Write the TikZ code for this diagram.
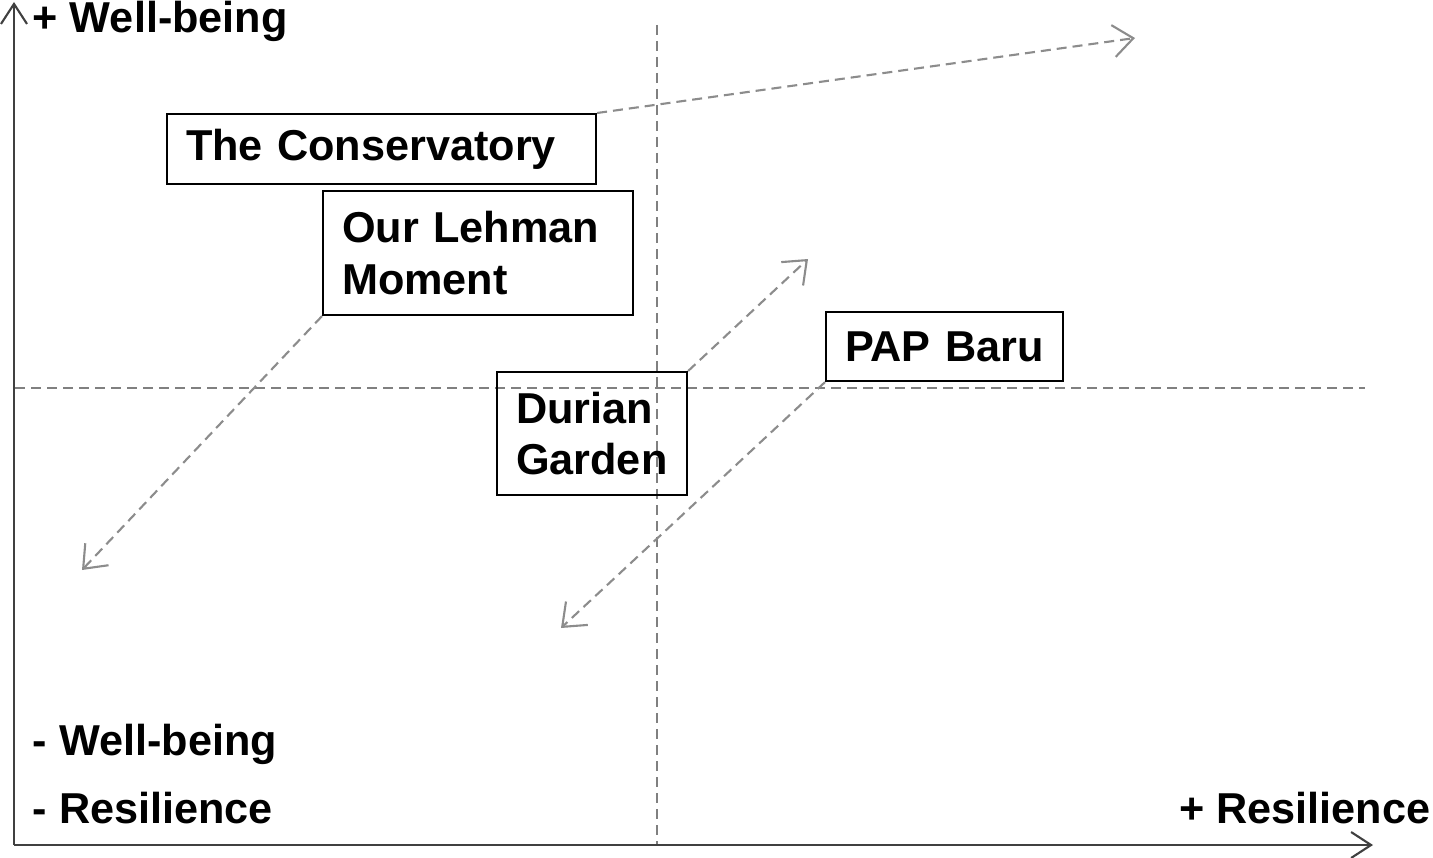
\documentclass[tikz,border=0pt]{standalone}
\usepackage{fontspec}
\setmainfont{Liberation Sans}
\usetikzlibrary{arrows.meta}
\tikzset{
	axisline/.style={draw=black!75, line width=0.6pt, -{Straight Barb[length=0.2cm, width=0.26cm]}},
	guideline/.style={draw=black!50, line width=0.5pt, dash pattern=on 0.10cm off 0.06cm},
	shiftarrow/.style={draw=black!45, line width=0.6pt, dash pattern=on 0.10cm off 0.06cm, -{Straight Barb[length=0.2cm, width=0.32cm]}},
	casebox/.style={draw=black, line width=0.6pt, anchor=north west, align=left, inner xsep=0.19cm, inner ysep=0pt, font=\fontsize{12.3}{14.7}\selectfont\bfseries},
	axislabel/.style={inner sep=0pt, font=\fontsize{12.3}{14.7}\selectfont\bfseries}
}
\begin{document}
\begin{tikzpicture}
			\useasboundingbox (0.00,0.00) rectangle (14.33,8.57);
			\coordinate (origin) at (0.14,0.12);
			\coordinate (ytip) at (0.14,8.55);
			\coordinate (xtip) at (13.73,0.12);
			\coordinate (vtop) at (6.57,8.32);
			\coordinate (vbot) at (6.57,0.12);
			\coordinate (hleft) at (0.15,4.69);
			\coordinate (hright) at (13.65,4.69);
			\draw[guideline] (vtop) -- (vbot);
			\draw[guideline] (hleft) -- (hright);
			\draw[axisline] (origin) -- (ytip);
			\draw[axisline] (origin) -- (xtip);
			\node[casebox, text width=3.91cm, minimum height=0.70cm] (cons) at (1.66,7.44) {The Conservatory};
			\node[casebox, text width=2.72cm, minimum height=1.24cm] (lehman) at (3.22,6.67) {Our Lehman\\Moment};
			\node[casebox, text width=1.52cm, minimum height=1.23cm] (durian) at (4.96,4.86) {Durian\\Garden};
			\node[casebox, text width=1.99cm, minimum height=0.69cm] (pap) at (8.25,5.46) {PAP Baru};
			\coordinate (constip) at (11.35,8.19);
			\coordinate (lehmantip) at (0.82,2.87);
			\coordinate (duriantip) at (8.08,5.98);
			\coordinate (paptip) at (5.61,2.29);
			\draw[shiftarrow] (cons.north east) -- (constip);
			\draw[shiftarrow] (lehman.south west) -- (lehmantip);
			\draw[shiftarrow] (durian.north east) -- (duriantip);
			\draw[shiftarrow] (pap.south west) -- (paptip);
			\node[axislabel, anchor=base west] (wellhigh) at (0.32,8.24) {+ Well-being};
			\node[axislabel, anchor=base west] (welllow) at (0.32,1.02) {- Well-being};
			\node[axislabel, anchor=base west] (reslow) at (0.32,0.34) {- Resilience};
			\node[axislabel, anchor=base east] (reshigh) at (14.31,0.34) {+ Resilience};
		\end{tikzpicture}
\end{document}
